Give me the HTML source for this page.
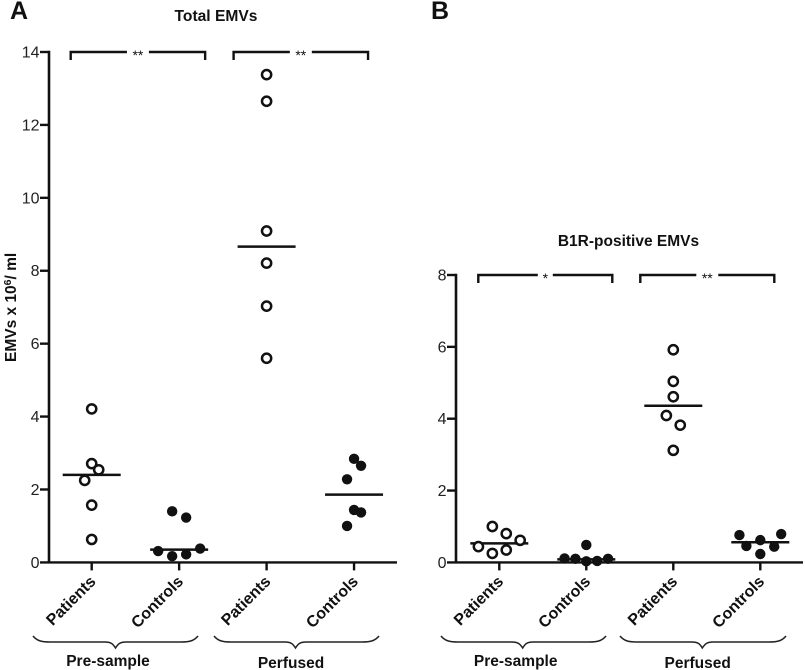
<!DOCTYPE html>
<html lang="en">
<head>
<meta charset="utf-8">
<title>Total EMVs and B1R-positive EMVs</title>
<style>
html,body{margin:0;padding:0;background:#fff;}
svg{display:block;font-family:"Liberation Sans",sans-serif;}
.bold{font-weight:bold;fill:#111;}
.tick{font-size:16px;fill:#222;}
</style>
</head>
<body>
<svg id="chart" width="805" height="670" viewBox="0 0 805 670" xmlns="http://www.w3.org/2000/svg">
  <rect width="805" height="670" fill="#fff"/>
  <text class="bold" x="10" y="19" font-size="25">A</text>
  <text class="bold" x="431" y="19" font-size="25">B</text>
  <text class="bold" x="216" y="21" font-size="15.6" text-anchor="middle">Total EMVs</text>
  <text class="bold" x="628.5" y="246" font-size="15.5" text-anchor="middle">B1R-positive EMVs</text>
  <text class="bold" transform="translate(16,362) rotate(-90)" font-size="15.5">EMVs x 10<tspan font-size="10.500" dy="-5">6</tspan><tspan dy="5">/ ml</tspan></text>
  <text class="bold" x="108" y="666" font-size="15.5" text-anchor="middle">Pre-sample</text>
  <text class="bold" x="291" y="668" font-size="15.5" text-anchor="middle">Perfused</text>
  <text class="bold" x="515.7" y="666" font-size="15.5" text-anchor="middle">Pre-sample</text>
  <text class="bold" x="697.7" y="668" font-size="15.5" text-anchor="middle">Perfused</text>
  <path d="M33 636C37 641 42 642 50 642L105 642C111 642 113 644 115.500 648C118 644 120 642 126 642L181 642C189 642 194 641 198 636" fill="none" stroke="#222" stroke-width="1.500"/>
  <path d="M214 636C218 641 223 642 231 642L285 642C291 642 293 644 295.500 648C298 644 300 642 306 642L362 642C370 642 375 641 379 636" fill="none" stroke="#222" stroke-width="1.500"/>
  <path d="M441 636C445 641 450 642 458 642L512 642C518 642 520 644 522.700 648C525 644 527 642 533 642L589 642C597 642 602 641 606 636" fill="none" stroke="#222" stroke-width="1.500"/>
  <path d="M620 636C624 641 629 642 637 642L692 642C698 642 700 644 702.300 648C705 644 707 642 713 642L769 642C777 642 782 641 786 636" fill="none" stroke="#222" stroke-width="1.500"/>
  <g id="panel-a"></g>
  <g id="panel-b"></g>
</svg>
<script>
// Shared labels
const categories = ['Patients', 'Controls', 'Patients', 'Controls'];
const hollowGroups = [true, false, true, false];

// Panel A: Total EMVs
const aTicks = [0, 2, 4, 6, 8, 10, 12, 14];
const aPreSamplePatients = [4.21, 2.71, 2.54, 2.25, 1.57, 0.63];
const aPreSamplePatientsJitter = [0, 0, 0.08, -0.08, 0, 0];
const aPreSampleControls = [1.40, 1.23, 0.38, 0.31, 0.22, 0.17];
const aPreSampleControlsJitter = [-0.08, 0.08, 0.24, -0.24, 0.08, -0.08];
const aPerfusedPatients = [13.38, 12.65, 9.09, 8.21, 7.03, 5.60];
const aPerfusedPatientsJitter = [0, 0, 0, 0, 0, 0];
const aPerfusedControls = [2.84, 2.65, 2.28, 1.44, 1.37, 1.00];
const aPerfusedControlsJitter = [0, 0.08, -0.08, 0, 0.08, -0.08];
const aMeans = [2.40, 0.35, 8.66, 1.86];
const aSignificance = ['**', '**'];

// Panel B: B1R-positive EMVs
const bTicks = [0, 2, 4, 6, 8];
const bPreSamplePatients = [1.00, 0.80, 0.615, 0.44, 0.345, 0.25];
const bPreSamplePatientsJitter = [-0.08, 0.08, 0.24, -0.24, 0.08, -0.08];
const bPreSampleControls = [0.485, 0.11, 0.10, 0.10, 0.04, 0.03];
const bPreSampleControlsJitter = [0, -0.25, -0.125, 0.25, 0.125, 0];
const bPerfusedPatients = [5.92, 5.04, 4.61, 4.09, 3.82, 3.12];
const bPerfusedPatientsJitter = [0, 0, 0, -0.08, 0.08, 0];
const bPerfusedControls = [0.79, 0.76, 0.62, 0.457, 0.437, 0.234];
const bPerfusedControlsJitter = [0.24, -0.24, 0, -0.16, 0.16, 0];
const bMeans = [0.53, 0.085, 4.36, 0.56];
const bSignificance = ['*', '**'];

const NS = 'http://www.w3.org/2000/svg';
function make(parent, tag, props) {
  const el = document.createElementNS(NS, tag);
  for (const k in props) el.setAttribute(k, props[k]);
  parent.appendChild(el);
  return el;
}

function drawPanel(cfg) {
  const g = document.getElementById(cfg.id);
  const x = function (c) { return cfg.x0 + cfg.dx * c; };
  const y = function (v) { return cfg.y0 - (v / cfg.ticks[cfg.ticks.length - 1]) * (cfg.y0 - cfg.yTop); };
  const black = '#111';

  // axes
  const yAxis = make(g, 'line', {x1: cfg.axisX, x2: cfg.axisX, y1: y(cfg.ticks[cfg.ticks.length - 1]) - 1.2, y2: cfg.y0, stroke: black, 'stroke-width': 2.6});
  
  
  const xAxis = make(g, 'line', {x1: cfg.axisX - 9, x2: cfg.axisEnd, y1: cfg.y0, y2: cfg.y0, stroke: black, 'stroke-width': 2.4});
  
  

  cfg.ticks.forEach(function (t) {
    if (t !== 0) {
      const tm = make(g, 'line', {x1: cfg.axisX - 9, x2: cfg.axisX, y1: y(t), y2: y(t), stroke: black, 'stroke-width': 2.4});
      
      
    }
    const lab = make(g, 'text', {x: cfg.axisX - 9.5, y: y(t) + 5.5, 'text-anchor': 'end', class: 'tick'});
    lab.textContent = String(t);
    
    
  });

  categories.forEach(function (name, c) {
    const tm = make(g, 'line', {x1: x(c), x2: x(c), y1: cfg.y0, y2: cfg.y0 + 8, stroke: black, 'stroke-width': 2.4});
    
    
    const ax = x(c) + 5;
    const ay = cfg.y0 + 20;
    const lab = make(g, 'text', {transform: 'translate(' + ax + ',' + ay + ') rotate(-45)', 'text-anchor': 'end', class: 'bold', 'font-size': 16});
    lab.textContent = name;
    
    
  });

  // significance brackets: first sits right of its group pair, second sits left
  cfg.significance.forEach(function (mark, i) {
    const c = i * 2;
    const left = x(c) + (i === 0 ? -21 : -33);
    const right = x(c + 1) + (i === 0 ? 26 : 14);
    const mid = (left + right) / 2;
    const halfGap = mark.length > 1 ? 11 : 7.5;
    const top = cfg.yTop;
    const br = make(g, 'path', {
      d: 'M' + left + ' ' + (top + 8) + 'V' + top + 'H' + (mid - halfGap) + 'M' + (mid + halfGap) + ' ' + top + 'H' + right + 'V' + (top + 8),
      fill: 'none', stroke: black, 'stroke-width': 2.4
    });
    
    
    const st = make(g, 'text', {x: mid, y: top + 8, 'text-anchor': 'middle', 'font-size': 14, fill: '#111'});
    st.textContent = mark;
    
    
  });

  // means then points
  cfg.series.forEach(function (s, c) {
    const mean = make(g, 'line', {x1: x(c) - 29, x2: x(c) + 29, y1: y(cfg.means[c]), y2: y(cfg.means[c]), stroke: black, 'stroke-width': 2.5});
    
    
    s.values.forEach(function (v, i) {
      const hollow = hollowGroups[c];
      const pt = make(g, 'circle', {
        cx: x(c + s.jitter[i]), cy: y(v),
        r: hollow ? 4.6 : 5.2,
        fill: hollow ? '#fff' : black,
        stroke: hollow ? black : 'none',
        'stroke-width': hollow ? 2.5 : 0
      });
      
      
    });
  });
}

drawPanel({
  id: 'panel-a', x0: 91.7, dx: 87.45, y0: 562.4, yTop: 52, axisX: 49, axisEnd: 397,
  ticks: aTicks, means: aMeans, significance: aSignificance,
  series: [
    {values: aPreSamplePatients, jitter: aPreSamplePatientsJitter},
    {values: aPreSampleControls, jitter: aPreSampleControlsJitter},
    {values: aPerfusedPatients, jitter: aPerfusedPatientsJitter},
    {values: aPerfusedControls, jitter: aPerfusedControlsJitter}
  ]
});
drawPanel({
  id: 'panel-b', x0: 499.3, dx: 87, y0: 562.4, yTop: 275, axisX: 456, axisEnd: 803,
  ticks: bTicks, means: bMeans, significance: bSignificance,
  series: [
    {values: bPreSamplePatients, jitter: bPreSamplePatientsJitter},
    {values: bPreSampleControls, jitter: bPreSampleControlsJitter},
    {values: bPerfusedPatients, jitter: bPerfusedPatientsJitter},
    {values: bPerfusedControls, jitter: bPerfusedControlsJitter}
  ]
});
</script>
</body>
</html>
